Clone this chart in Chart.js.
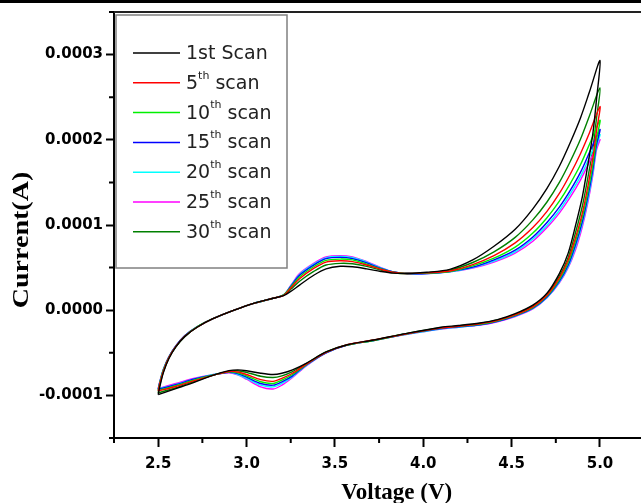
<!DOCTYPE html>
<html>
<head>
<meta charset="utf-8">
<script src="https://cdn.jsdelivr.net/npm/chart.js@4.4.0/dist/chart.umd.min.js"></script>
<style>
  html, body { margin: 0; padding: 0; background: #fff; }
</style>
</head>
<body>
<canvas id="cv" width="641" height="503"></canvas>
<script>
// voltage points of one CV loop: anodic branch 2.5 -> 5.0, then back to 2.5
var voltage = [
  2.50, 2.51, 2.53, 2.56, 2.60, 2.65, 2.72, 2.81, 2.93, 3.04, 3.15, 3.21, 3.25, 3.30, 3.38, 3.45, 3.53,
  3.60, 3.68, 3.76, 3.83, 3.91, 4.02, 4.15, 4.28, 4.40, 4.52, 4.62, 4.70, 4.77, 4.83, 4.89, 4.94, 5.00,
  4.98, 4.96, 4.93, 4.90, 4.86, 4.82, 4.77, 4.70, 4.62, 4.52, 4.42, 4.32, 4.20, 4.10, 3.90,
  3.72, 3.57, 3.45, 3.34, 3.26, 3.20, 3.15, 3.08, 3.00, 2.95, 2.90, 2.80, 2.70, 2.60, 2.50
];

// currents, in units of 1e-5 A
var scan1 = [
  -9.9, -8.9, -7.3, -5.7, -4.3, -3.1, -2.0, -1.0, 0.0, 0.8, 1.4, 1.7, 2.2, 2.95, 4.1, 4.85, 5.15,
  5.1, 4.85, 4.55, 4.35, 4.3, 4.45, 4.8, 5.9, 7.5, 9.5, 11.9, 14.3, 16.9, 19.6, 22.6, 25.6, 29.3,
  24.7, 20.8, 16.9, 13.3, 9.8, 6.7, 4.3, 2.0, 0.6, -0.4, -1.1, -1.5, -1.8, -2.0, -2.75,
  -3.5, -4.05, -4.9, -6.2, -7.0, -7.4, -7.55, -7.4, -7.1, -7.0, -7.1, -7.7, -8.5, -9.2, -9.9
];
var scan5 = [
  -9.5, -8.55, -7.1, -5.6, -4.25, -3.05, -2.0, -1.0, 0.0, 0.8, 1.4, 1.75, 2.6, 3.7, 4.9, 5.65, 5.8,
  5.7, 5.3, 4.8, 4.45, 4.3, 4.4, 4.6, 5.35, 6.4, 7.9, 9.7, 11.6, 13.7, 15.9, 18.4, 20.8, 23.9,
  21.0, 17.9, 14.4, 11.4, 8.4, 5.9, 3.8, 1.75, 0.4, -0.55, -1.2, -1.6, -1.9, -2.1, -2.8,
  -3.5, -4.05, -4.95, -6.3, -7.4, -8.0, -8.35, -8.15, -7.55, -7.25, -7.2, -7.7, -8.3, -8.95, -9.5
];
var scan10 = [
  -9.4, -8.45, -7.0, -5.55, -4.25, -3.05, -1.95, -1.0, 0.0, 0.8, 1.4, 1.8, 2.7, 3.9, 5.1, 5.85, 6.0,
  5.9, 5.4, 4.85, 4.45, 4.3, 4.35, 4.55, 5.2, 6.1, 7.4, 9.05, 10.85, 12.8, 14.8, 17.1, 19.45, 22.3,
  20.0, 17.1, 13.7, 10.9, 8.0, 5.6, 3.6, 1.65, 0.3, -0.6, -1.25, -1.65, -1.9, -2.1, -2.8,
  -3.55, -4.1, -4.95, -6.35, -7.55, -8.2, -8.6, -8.4, -7.7, -7.35, -7.25, -7.65, -8.2, -8.85, -9.4
];
var scan15 = [
  -9.3, -8.4, -6.95, -5.5, -4.2, -3.0, -1.95, -1.0, 0.0, 0.8, 1.4, 1.8, 2.8, 4.1, 5.3, 6.05, 6.2,
  6.05, 5.55, 4.9, 4.5, 4.3, 4.3, 4.55, 5.05, 5.9, 7.05, 8.6, 10.3, 12.1, 14.0, 16.2, 18.5, 21.2,
  19.4, 16.6, 13.2, 10.4, 7.6, 5.3, 3.4, 1.55, 0.25, -0.65, -1.3, -1.7, -1.95, -2.15, -2.8,
  -3.55, -4.1, -5.0, -6.4, -7.7, -8.4, -8.8, -8.6, -7.85, -7.45, -7.3, -7.65, -8.1, -8.75, -9.3
];
var scan20 = [
  -9.25, -8.35, -6.9, -5.5, -4.2, -3.0, -1.95, -1.0, 0.0, 0.8, 1.4, 1.8, 2.85, 4.2, 5.4, 6.15, 6.3,
  6.15, 5.65, 4.95, 4.5, 4.3, 4.3, 4.5, 5.0, 5.75, 6.85, 8.35, 9.95, 11.7, 13.6, 15.7, 17.9, 20.6,
  19.1, 16.2, 12.8, 10.1, 7.3, 5.1, 3.3, 1.5, 0.2, -0.7, -1.3, -1.7, -2.0, -2.2, -2.85,
  -3.55, -4.1, -5.0, -6.45, -7.8, -8.6, -9.0, -8.8, -8.0, -7.55, -7.3, -7.6, -8.1, -8.7, -9.25
];
var scan25 = [
  -9.2, -8.3, -6.9, -5.5, -4.2, -3.0, -1.95, -1.0, 0.0, 0.8, 1.4, 1.8, 2.9, 4.3, 5.5, 6.25, 6.4,
  6.25, 5.7, 5.0, 4.5, 4.3, 4.3, 4.5, 4.95, 5.65, 6.7, 8.1, 9.7, 11.4, 13.2, 15.3, 17.4, 20.0,
  18.8, 15.9, 12.5, 9.8, 7.0, 5.0, 3.2, 1.45, 0.15, -0.75, -1.35, -1.75, -2.0, -2.2, -2.85,
  -3.55, -4.1, -5.0, -6.5, -7.9, -8.8, -9.25, -9.0, -8.1, -7.6, -7.35, -7.6, -8.0, -8.6, -9.2
];
var scan30 = [
  -9.7, -8.7, -7.2, -5.65, -4.3, -3.1, -2.0, -1.0, 0.0, 0.8, 1.4, 1.75, 2.45, 3.4, 4.55, 5.3, 5.5,
  5.45, 5.15, 4.7, 4.4, 4.3, 4.4, 4.7, 5.6, 6.85, 8.55, 10.6, 12.7, 15.0, 17.4, 20.1, 22.8, 26.1,
  22.5, 19.0, 15.4, 12.2, 9.0, 6.2, 4.0, 1.85, 0.5, -0.5, -1.15, -1.55, -1.85, -2.05, -2.75,
  -3.5, -4.05, -4.9, -6.25, -7.2, -7.7, -7.9, -7.75, -7.3, -7.1, -7.15, -7.7, -8.4, -9.1, -9.7
];

var scanLabels = ['1st Scan', '5th scan', '10th scan', '15th scan', '20th scan', '25th scan', '30th scan'];
var scanColors = ['#000000', '#ff0000', '#00f000', '#0000ff', '#00ffff', '#ff00ff', '#008000'];
var scanValues = [scan1, scan5, scan10, scan15, scan20, scan25, scan30];

var xTicks = [2.5, 3.0, 3.5, 4.0, 4.5, 5.0];
var xMinor = [2.25, 2.75, 3.25, 3.75, 4.25, 4.75];
var yTicks = [-0.0001, 0, 0.0001, 0.0002, 0.0003];
var yMinor = [-0.00015, -0.00005, 0.00005, 0.00015, 0.00025, 0.00035];

var xTitle = 'Voltage (V)';
var yTitle = 'Current(A)';

function makeDatasets() {
  var datasets = [];
  for (var i = 0; i < scanValues.length; i++) {
    var pts = [];
    for (var j = 0; j < voltage.length; j++) {
      pts.push({ x: voltage[j], y: scanValues[i][j] * 1e-5 });
    }
    datasets.push({
      label: scanLabels[i],
      data: pts,
      showLine: true,
      borderColor: scanColors[i],
      backgroundColor: scanColors[i],
      borderWidth: 1.4,
      pointRadius: 0,
      tension: 0.3
    });
  }
  return datasets;
}

// legend text with superscript "th"
function drawLabel(ctx, text, x, y) {
  var m = text.match(/^(\d+)(th)(.*)$/);
  ctx.font = '19px "DejaVu Sans"';
  if (!m) {
    ctx.fillText(text, x, y);
    return;
  }
  ctx.fillText(m[1], x, y);
  x += ctx.measureText(m[1]).width;
  ctx.font = '11px "DejaVu Sans"';
  ctx.fillText(m[2], x, y - 8);
  x += ctx.measureText(m[2]).width;
  ctx.font = '19px "DejaVu Sans"';
  ctx.fillText(m[3], x, y);
}

var frame = {
  id: 'frame',
  afterDraw: function(chart) {
    var ctx = chart.ctx;
    var a = chart.chartArea;
    var xs = chart.scales.x, ys = chart.scales.y;
    ctx.save();

    ctx.fillStyle = '#000';
    ctx.fillRect(0, 0, chart.width, 3);

    ctx.strokeStyle = '#222';
    ctx.lineWidth = 2;
    ctx.beginPath();
    ctx.moveTo(a.left, a.top);
    ctx.lineTo(a.right, a.top);
    ctx.stroke();

    // minor ticks
    ctx.strokeStyle = '#000';
    ctx.lineWidth = 2;
    ctx.beginPath();
    xMinor.forEach(function(v) {
      var px = xs.getPixelForValue(v);
      ctx.moveTo(px, a.bottom);
      ctx.lineTo(px, a.bottom + 5);
    });
    yMinor.forEach(function(v) {
      var py = ys.getPixelForValue(v);
      ctx.moveTo(a.left - 5, py);
      ctx.lineTo(a.left, py);
    });
    ctx.stroke();

    // axis titles (the original axis runs past the right edge, so x title is off-centre)
    ctx.fillStyle = '#000';
    ctx.font = 'bold 23px "Liberation Serif"';
    ctx.textAlign = 'center';
    ctx.textBaseline = 'alphabetic';
    ctx.fillText(xTitle, xs.getPixelForValue(3.85), 499);

    ctx.save();
    ctx.translate(28, 240);
    ctx.rotate(-Math.PI / 2);
    ctx.scale(1.22, 1);
    ctx.fillText(yTitle, 0, 0);
    ctx.restore();

    // legend box
    var bx = a.left + 2, by = a.top + 3, bw = 171, bh = 253;
    ctx.fillStyle = '#fff';
    ctx.fillRect(bx, by, bw, bh);
    ctx.strokeStyle = '#808080';
    ctx.lineWidth = 1.5;
    ctx.strokeRect(bx, by, bw, bh);

    ctx.textBaseline = 'middle';
    ctx.textAlign = 'left';
    for (var i = 0; i < scanLabels.length; i++) {
      var ly = by + 38 + i * 29.8;
      ctx.strokeStyle = scanColors[i];
      ctx.lineWidth = 1.5;
      ctx.beginPath();
      ctx.moveTo(bx + 17, ly);
      ctx.lineTo(bx + 64, ly);
      ctx.stroke();
      ctx.fillStyle = '#222';
      drawLabel(ctx, scanLabels[i], bx + 70, ly + 1);
    }
    ctx.restore();
  }
};

var tickFont = { family: 'DejaVu Sans', weight: 'bold', size: 15 };

new Chart(document.getElementById('cv').getContext('2d'), {
  type: 'scatter',
  data: { datasets: makeDatasets() },
  options: {
    responsive: false,
    animation: false,
    layout: { padding: { top: 12, right: 0, left: 0, bottom: 0 } },
    plugins: {
      legend: { display: false },
      tooltip: { enabled: false }
    },
    scales: {
      x: {
        type: 'linear',
        min: 2.25,
        max: 5.232,
        afterBuildTicks: function(s) { s.ticks = xTicks.map(function(v) { return { value: v }; }); },
        afterFit: function(s) { s.height = 65; },
        grid: { drawOnChartArea: false, tickLength: 9, tickWidth: 2, tickColor: '#000' },
        border: { display: true, color: '#000', width: 2 },
        ticks: {
          color: '#000', font: tickFont, padding: 8, maxRotation: 0, autoSkip: false,
          callback: function(v) { return v.toFixed(1); }
        }
      },
      y: {
        type: 'linear',
        min: -0.00015,
        max: 0.00035,
        afterBuildTicks: function(s) { s.ticks = yTicks.map(function(v) { return { value: v }; }); },
        afterFit: function(s) { s.width = 114; },
        grid: { drawOnChartArea: false, tickLength: 8, tickWidth: 2, tickColor: '#000' },
        border: { display: true, color: '#000', width: 2 },
        ticks: {
          color: '#000', font: tickFont, padding: 3, autoSkip: false,
          callback: function(v) { return v.toFixed(4); }
        }
      }
    }
  },
  plugins: [frame]
});
</script>
</body>
</html>
